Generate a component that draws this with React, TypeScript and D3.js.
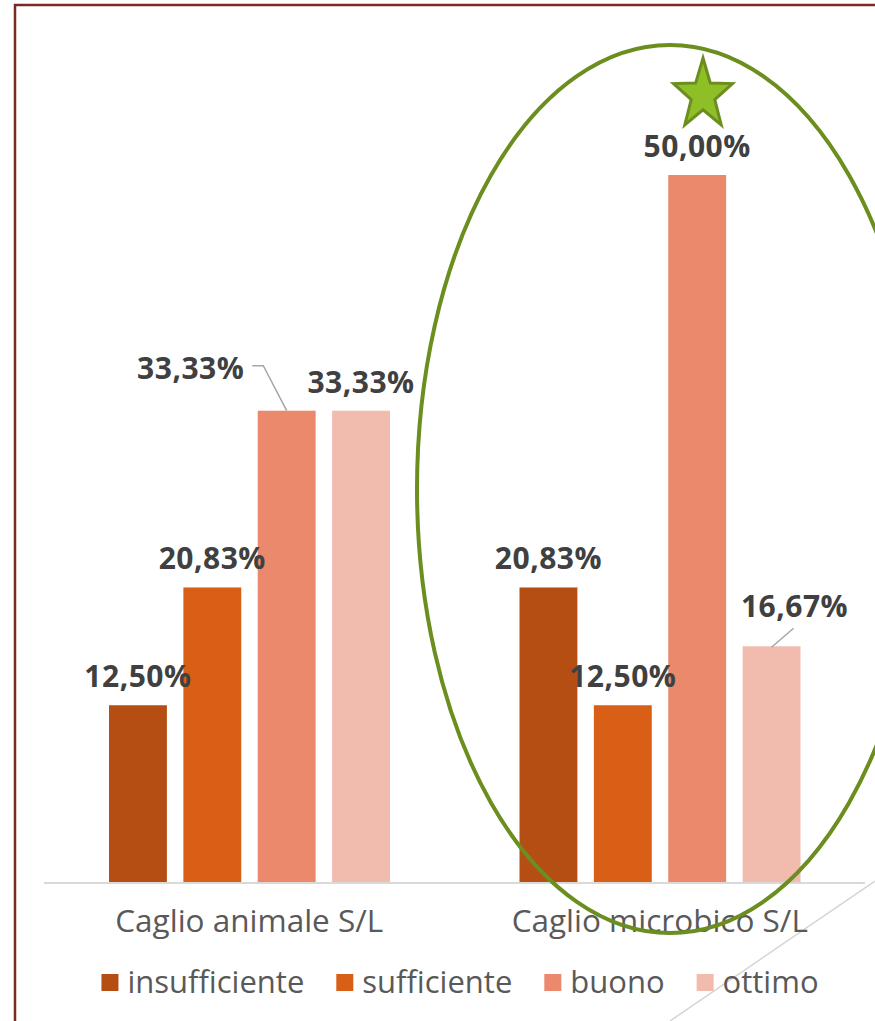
import React, { useEffect, useRef } from "react";
import * as d3 from "d3";

const categories = ["Caglio animale S/L", "Caglio microbico S/L"];
const seriesNames = ["insufficiente", "sufficiente", "buono", "ottimo"];
const insufficiente = [12.5, 20.83];
const sufficiente = [20.83, 12.5];
const buono = [33.33, 50.0];
const ottimo = [33.33, 16.67];
const seriesValues = [insufficiente, sufficiente, buono, ottimo];
const seriesColors = ["#B54E12", "#D95F17", "#EA896B", "#F1BCAE"];

const W = 875;
const H = 1021;
const FONT = "'Open Sans', 'DejaVu Sans', sans-serif";

const itLocale = d3.formatLocale({
  decimal: ",",
  thousands: ".",
  grouping: [3],
  currency: ["", " €"],
});
const fmt = itLocale.format(".2f");

export default function App() {
  const ref = useRef<SVGSVGElement | null>(null);

  useEffect(() => {
    const svg = d3.select(ref.current);
    svg.selectAll("*").remove();

    const x0 = d3.scaleBand<string>().domain(categories).range([44, 865]).padding(0);
    const x1 = d3
      .scaleBand<string>()
      .domain(seriesNames)
      .range([65, 65 + 281])
      .paddingInner(0.2215)
      .paddingOuter(0);
    const y = d3.scaleLinear().domain([0, 60]).range([882, 33.6]);

    // chart border (top + left)
    svg
      .append("path")
      .attr("d", `M15,${H} L15,5 L${W},5`)
      .attr("fill", "none")
      .attr("stroke", "#7B2A22")
      .attr("stroke-width", 2.5);

    // decorative diagonal line
    svg
      .append("line")
      .attr("x1", 670)
      .attr("y1", H)
      .attr("x2", W)
      .attr("y2", 881)
      .attr("stroke", "#D4D4D4")
      .attr("stroke-width", 1.5);

    // bars
    const data = seriesNames.flatMap((s, si) =>
      categories.map((c, ci) => ({ s, si, c, ci, v: seriesValues[si][ci] }))
    );

    svg
      .append("g")
      .selectAll("rect")
      .data(data)
      .join("rect")
      .attr("x", (d) => x0(d.c)! + x1(d.s)!)
      .attr("y", (d) => y(d.v))
      .attr("width", x1.bandwidth())
      .attr("height", (d) => y(0) - y(d.v))
      .attr("fill", (d) => seriesColors[d.si]);

    // baseline
    svg
      .append("line")
      .attr("x1", 44)
      .attr("x2", 865)
      .attr("y1", y(0) + 1)
      .attr("y2", y(0) + 1)
      .attr("stroke", "#D9D9D9")
      .attr("stroke-width", 2);

    // data labels
    const offsets: Record<string, [number, number, boolean]> = {
      "buono|0": [-96, -32, true],
      "ottimo|1": [23, -29, true],
    };
    const labelG = svg.append("g");
    data.forEach((d) => {
      const cx = x0(d.c)! + x1(d.s)! + x1.bandwidth() / 2;
      const top = y(d.v);
      const off = offsets[`${d.s}|${d.ci}`] || [0, -18, false];
      const tx = cx + off[0];
      const ty = top + off[1];
      const t = labelG
        .append("text")
        .attr("x", tx)
        .attr("y", ty)
        .attr("text-anchor", "middle")
        .attr("font-family", FONT)
        .attr("font-weight", 700)
        .attr("font-size", 30)
        .attr("letter-spacing", 0.5)
        .attr("fill", "#404040")
        .text(fmt(d.v) + "%");
      if (off[2]) {
        const w = (t.node() as SVGTextElement).getComputedTextLength();
        let path: string;
        if (off[0] < 0) {
          const sx = tx + w / 2 + 8;
          const sy = ty - 13;
          path = `M${sx},${sy} L${sx + 11},${sy} L${cx},${top}`;
        } else {
          path = `M${tx - 1},${ty + 11} L${cx},${top + 1}`;
        }
        labelG
          .append("path")
          .attr("d", path)
          .attr("fill", "none")
          .attr("stroke", "#A6A6A6")
          .attr("stroke-width", 1.5);
      }
    });

    // category labels
    svg
      .append("g")
      .selectAll("text")
      .data(categories)
      .join("text")
      .attr("x", (c) => x0(c)! + x0.bandwidth() / 2)
      .attr("y", 932)
      .attr("text-anchor", "middle")
      .attr("font-family", FONT)
      .attr("font-size", 31.5)
      .attr("fill", "#595959")
      .text((c) => c);

    // legend
    const lg = svg.append("g");
    const items = seriesNames.map((s, i) => {
      const g = lg.append("g");
      g.append("rect")
        .attr("x", 0)
        .attr("y", 974)
        .attr("width", 17)
        .attr("height", 17)
        .attr("fill", seriesColors[i]);
      const t = g
        .append("text")
        .attr("x", 26)
        .attr("y", 993)
        .attr("font-family", FONT)
        .attr("font-size", 31)
        .attr("fill", "#595959")
        .text(s);
      const w = (t.node() as SVGTextElement).getComputedTextLength();
      return { g, w: 26 + w };
    });
    const gap = 32;
    const total = d3.sum(items, (d) => d.w) + gap * (items.length - 1);
    let cur = 460 - total / 2;
    items.forEach((it) => {
      it.g.attr("transform", `translate(${cur},0)`);
      cur += it.w + gap;
    });

    // highlight ellipse
    svg
      .append("ellipse")
      .attr("cx", 670)
      .attr("cy", 489)
      .attr("rx", 253)
      .attr("ry", 444)
      .attr("fill", "none")
      .attr("stroke", "#6B8E1F")
      .attr("stroke-width", 4);

    // star
    const scx = 703,
      scy = 95,
      sxr = 31,
      syr = 37,
      inner = 0.4;
    const pts: [number, number][] = [];
    for (let k = 0; k < 10; k++) {
      const a = (-90 + k * 36) * (Math.PI / 180);
      const r = k % 2 === 0 ? 1 : inner;
      pts.push([scx + Math.cos(a) * r * sxr, scy + Math.sin(a) * r * syr]);
    }
    svg
      .append("polygon")
      .attr("points", pts.map((p) => p.join(",")).join(" "))
      .attr("fill", "#8FBF26")
      .attr("stroke", "#6B8E1F")
      .attr("stroke-width", 3)
      .attr("stroke-linejoin", "miter");
  }, []);

  return (
    <svg
      ref={ref}
      width={W}
      height={H}
      style={{ position: "absolute", left: 0, top: 0, display: "block", background: "#fff" }}
    />
  );
}
